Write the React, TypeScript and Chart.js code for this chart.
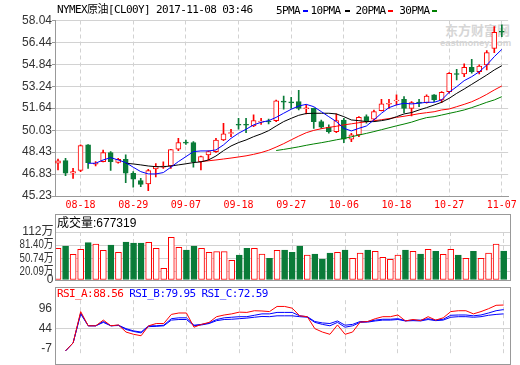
import React, { useEffect, useRef } from 'react';
import { Chart, registerables } from 'chart.js';

Chart.register(...registerables);

// ---- data ----
const dates = ['08-15','08-16','08-17','08-18','08-21','08-22','08-23','08-24','08-25','08-28','08-29','08-30','08-31','09-01','09-04','09-05','09-06','09-07','09-08','09-11','09-12','09-13','09-14','09-15','09-18','09-19','09-20','09-21','09-22','09-25','09-26','09-27','09-28','09-29','10-02','10-03','10-04','10-05','10-06','10-10','10-11','10-12','10-13','10-16','10-17','10-18','10-19','10-20','10-23','10-24','10-25','10-26','10-27','10-30','10-31','11-01','11-02','11-03','11-06','11-07'];
const axisDates = ['08-18','08-29','09-07','09-18','09-27','10-06','10-18','10-27','11-07'];

const opens = [47.62,47.81,46.89,47.10,48.96,47.55,47.74,48.40,47.69,47.91,46.89,46.35,46.11,47.20,47.33,47.42,48.64,49.16,49.13,47.74,48.23,48.47,49.32,49.79,50.47,50.47,50.34,50.62,50.70,50.73,52.15,52.10,52.12,51.60,51.63,50.66,50.25,49.93,50.78,49.37,49.69,51.02,50.83,51.46,51.93,52.17,52.29,51.63,52.08,52.05,52.61,52.24,52.85,54.17,54.14,54.63,54.31,54.80,56.01,57.26];
const closes = [47.79,46.89,47.01,48.91,47.67,47.62,48.40,47.74,47.91,46.89,46.45,46.08,47.08,47.40,47.42,48.62,49.13,49.09,47.74,48.11,48.47,49.32,49.76,49.86,50.40,50.40,50.73,50.69,50.63,52.17,52.08,52.03,51.63,51.67,50.66,50.25,49.93,50.73,49.37,49.69,50.97,50.73,51.39,51.95,52.00,52.24,51.63,52.05,52.01,52.53,52.24,52.80,54.19,54.10,54.63,54.31,54.72,55.70,57.18,57.19];
const highs = [47.92,47.98,47.25,48.96,48.98,47.74,48.59,48.47,47.98,48.23,47.01,46.52,47.18,47.60,47.72,48.64,49.44,49.32,49.20,48.15,48.52,49.44,50.54,50.10,50.90,50.90,51.15,50.90,50.85,52.24,52.53,52.43,52.95,51.88,51.65,50.78,50.42,51.22,50.90,49.81,51.02,51.15,51.51,52.29,52.29,52.61,52.48,52.12,52.29,52.61,52.63,52.85,54.24,54.48,54.87,55.21,54.80,55.84,57.59,57.72];
const lows = [47.13,46.72,46.52,47.01,47.25,47.42,47.72,47.10,47.62,46.21,45.87,45.91,45.62,46.62,47.25,47.25,48.54,49.00,47.33,47.13,47.86,48.42,49.27,49.56,50.10,49.86,50.29,50.45,50.50,50.66,51.56,51.63,51.51,51.22,50.17,50.17,49.81,49.86,49.13,49.20,49.56,50.54,50.78,51.44,51.63,51.88,51.32,51.07,51.75,52.00,52.12,52.05,52.73,53.70,53.94,54.19,54.14,54.43,55.70,56.86];

const ma5 = [null,null,null,null,47.62,47.62,47.86,48.03,47.86,47.67,47.33,47.01,46.84,46.84,46.94,47.33,47.74,48.10,48.47,48.52,48.52,48.59,48.96,49.44,49.81,50.10,50.42,50.61,50.73,50.97,51.27,51.56,51.80,51.92,51.75,51.39,51.02,50.66,50.17,49.98,50.17,50.34,50.78,51.27,51.68,51.88,52.00,51.95,52.00,52.07,52.07,52.24,52.80,53.21,53.65,53.94,54.30,54.79,55.40,55.93];
const ma10 = [null,null,null,null,null,null,null,null,null,47.62,47.57,47.50,47.42,47.37,47.37,47.42,47.50,47.58,47.67,47.72,47.86,48.15,48.54,48.88,49.13,49.32,49.56,49.76,50.00,50.34,50.66,50.90,51.12,51.25,51.27,51.27,51.27,51.22,51.02,50.78,50.73,50.66,50.66,50.73,50.83,51.02,51.22,51.32,51.51,51.68,51.87,52.07,52.36,52.72,53.04,53.38,53.72,54.06,54.43,54.74];
const ma20 = [null,null,null,null,null,null,null,null,null,null,null,null,null,null,null,null,null,null,null,47.74,47.80,47.86,47.93,48.00,48.08,48.16,48.27,48.40,48.57,48.80,49.05,49.33,49.60,49.85,50.02,50.14,50.24,50.32,50.42,50.50,50.58,50.65,50.72,50.80,50.88,50.97,51.05,51.14,51.24,51.31,51.38,51.51,51.58,51.75,51.92,52.11,52.36,52.65,52.97,53.26];
const ma30 = [null,null,null,null,null,null,null,null,null,null,null,null,null,null,null,null,null,null,null,null,null,null,null,null,null,null,null,null,null,48.55,48.63,48.72,48.82,48.93,49.03,49.12,49.22,49.33,49.43,49.55,49.68,49.80,49.93,50.07,50.21,50.35,50.48,50.62,50.80,50.95,51.02,51.14,51.26,51.38,51.51,51.68,51.87,52.07,52.24,52.48];

// volume in 万
const volumes = [73.9,79.3,59.9,71.6,87.1,84.0,69.2,81.7,64.6,88.7,86.3,86.3,87.9,73.9,27.2,99.6,76.2,70.0,79.3,73.9,64.6,66.1,66.1,45.9,58.3,73.9,73.9,60.7,50.6,69.2,70.0,64.6,79.3,58.3,60.7,49.0,63.0,64.6,70.0,50.6,63.0,70.0,66.9,52.9,48.2,58.3,70.0,66.9,60.7,71.6,66.9,59.9,71.6,58.3,50.6,66.9,50.6,63.0,84.0,67.73];

// RSI, in the units of the panel's axis
const rsiA = [null,-12.6,7.7,87.4,51.2,51.2,65.7,51.2,53.4,35.3,29.5,25.9,51.2,57.0,57.0,80.2,83.8,83.8,47.6,54.8,59.9,74.4,78.7,81.6,86.0,85.3,89.6,88.9,87.4,100.5,100.5,96.1,76.6,74.4,44.0,35.3,29.5,53.4,29.5,35.3,60.6,62.1,69.3,74.4,74.4,78.7,63.5,67.2,64.3,74.4,65.7,71.5,87.4,89.6,89.6,81.6,87.4,94.7,103.4,104.1];
const rsiB = [null,-12.6,7.7,83.8,51.2,51.2,62.1,51.2,52.7,44.0,38.2,35.3,51.2,51.2,52.7,69.3,71.5,71.5,52.7,54.8,58.5,67.2,71.5,73.0,74.4,74.4,78.0,81.6,81.6,85.3,85.3,85.3,76.6,74.4,62.1,58.5,57.0,63.5,52.7,54.8,62.1,62.1,65.7,67.9,67.9,69.3,64.3,65.7,65.7,69.3,65.7,67.9,78.0,78.7,78.7,76.6,78.7,83.8,89.6,92.5];
const rsiC = [null,-12.6,7.7,81.6,51.2,51.2,59.9,51.2,51.9,41.8,36.7,33.1,49.0,49.8,51.2,65.7,67.2,67.2,51.2,53.4,57.0,64.3,67.2,67.9,69.3,70.8,73.0,75.0,74.4,76.6,76.6,76.6,74.4,73.0,59.9,54.8,51.2,59.9,47.6,51.2,59.9,60.6,63.5,65.7,65.7,67.2,63.5,64.3,63.5,67.2,64.3,65.7,73.0,74.4,74.4,73.0,74.4,78.0,80.2,81.6];

const priceTicks = [45.23,46.83,48.43,50.03,51.64,53.24,54.84,56.44,58.04];
const volTicks = [0,20.09,50.74,81.40,112];
const volTickLabels = ['0','20.09万','50.74万','81.40万','112万'];
const rsiTicks = [-7,44,96];

// ---- styles ----
const SANS = '"Liberation Sans", Arial, "Noto Sans CJK SC", sans-serif';
const MONO = '"DejaVu Sans Mono", "Liberation Mono", "Noto Sans CJK SC", monospace';
const RED = '#ff0000';
const GREEN = '#0a7b38';
const BLUE = '#0000ff';
const GRID = '#d2d2d2';
const AXIS = '#999999';
const CLEAR = 'rgba(0,0,0,0)';

const tickIdx = axisDates.map((d) => dates.indexOf(d));
const up = closes.map((c, i) => c >= opens[i]);

function xScale(labels: boolean, h: number) {
  return {
    type: 'linear',
    min: -0.4,
    max: 59.84,
    offset: false,
    afterBuildTicks: (s: any) => { s.ticks = tickIdx.map((v) => ({ value: v })); },
    afterFit: (s: any) => { s.height = h; },
    ticks: {
      display: labels, autoSkip: false, maxRotation: 0, minRotation: 0, padding: 3,
      color: RED, font: { family: MONO, size: 10 },
      callback: (v: any) => dates[v],
    },
    grid: { offset: false, color: GRID, drawTicks: false, lineWidth: 1 },
    border: { display: labels, color: AXIS, dash: [4, 3] },
  };
}

function lineDs(label: string, arr: (number | null)[], color: string) {
  return {
    type: 'line', label,
    data: arr.map((v, i) => ({ x: i, y: v })),
    borderColor: color, borderWidth: 1, pointRadius: 0, fill: false, tension: 0, spanGaps: false,
  };
}

const volLabelPlugin = {
  id: 'volLabels',
  afterDraw(chart: any) {
    const ctx = chart.ctx;
    const s = chart.scales.y;
    ctx.save();
    ctx.font = `12px ${SANS}`;
    ctx.fillStyle = '#333333';
    ctx.textAlign = 'right';
    ctx.textBaseline = 'middle';
    volTicks.forEach((v, k) => {
      ctx.fillText(volTickLabels[k], 53.5, s.getPixelForValue(v), 34);
    });
    ctx.restore();
  },
};

const common = {
  responsive: false,
  maintainAspectRatio: false,
  animation: false,
  events: [],
  plugins: { legend: { display: false }, tooltip: { enabled: false } },
};

export default function App() {
  const mainRef = useRef<HTMLCanvasElement>(null);
  const volRef = useRef<HTMLCanvasElement>(null);
  const rsiRef = useRef<HTMLCanvasElement>(null);

  useEffect(() => {
    const charts: any[] = [];

    charts.push(new Chart(mainRef.current as HTMLCanvasElement, {
      type: 'bar',
      data: {
        datasets: [
          lineDs('5PMA', ma5, BLUE),
          lineDs('10PMA', ma10, '#000000'),
          lineDs('20PMA', ma20, RED),
          lineDs('30PMA', ma30, '#008000'),
          {
            type: 'bar', label: 'K',
            data: opens.map((o, i) => ({ x: i, y: [o, closes[i]] })),
            backgroundColor: up.map((u) => (u ? '#ffffff' : GREEN)),
            borderColor: up.map((u) => (u ? RED : GREEN)),
            borderWidth: 1, borderSkipped: false, barThickness: 5, grouped: false,
          },
          {
            type: 'bar', label: 'HL',
            data: lows.map((l, i) => ({ x: i, y: [l, highs[i]] })),
            backgroundColor: up.map((u) => (u ? RED : GREEN)),
            borderWidth: 0, barThickness: 1, grouped: false,
          },
        ],
      } as any,
      options: {
        ...common,
        layout: { autoPadding: false, padding: { top: 20.5, left: 0, right: 10, bottom: 0 } },
        scales: {
          x: xScale(true, 19),
          y: {
            type: 'linear', min: 45.23, max: 58.04,
            afterBuildTicks: (s: any) => { s.ticks = priceTicks.map((v) => ({ value: v })); },
            afterFit: (s: any) => { s.width = 55; },
            ticks: {
              autoSkip: false, padding: 0, color: '#333333',
              font: { family: SANS, size: 12 },
              callback: (v: any) => Number(v).toFixed(2),
            },
            grid: {
              color: (c: any) => (c.tick && c.tick.value === 45.23 ? CLEAR : GRID),
              tickColor: AXIS, tickLength: 3,
            },
            border: { color: AXIS },
          },
        },
      } as any,
    }));

    charts.push(new Chart(volRef.current as HTMLCanvasElement, {
      type: 'bar',
      data: {
        datasets: [{
          label: 'VOL',
          data: volumes.map((v, i) => ({ x: i, y: v })),
          backgroundColor: up.map((u) => (u ? '#ffffff' : GREEN)),
          borderColor: up.map((u) => (u ? RED : GREEN)),
          borderWidth: 1, borderSkipped: false, barThickness: 6, grouped: false,
        }],
      } as any,
      options: {
        ...common,
        layout: { autoPadding: false, padding: { top: 20, left: 0, right: 10, bottom: 0 } },
        scales: {
          x: xScale(false, 4),
          y: {
            type: 'linear', min: 0, max: 112,
            afterBuildTicks: (s: any) => { s.ticks = volTicks.map((v) => ({ value: v })); },
            afterFit: (s: any) => { s.width = 55; },
            ticks: { display: false },
            grid: { color: GRID, drawTicks: false },
            border: { display: false },
          },
        },
      } as any,
      plugins: [volLabelPlugin] as any,
    }));

    charts.push(new Chart(rsiRef.current as HTMLCanvasElement, {
      type: 'line',
      data: {
        datasets: [
          { label: 'RSI_A', data: rsiA.map((v, i) => ({ x: i, y: v })), borderColor: RED, borderWidth: 1, pointRadius: 0, fill: false },
          { label: 'RSI_B', data: rsiB.map((v, i) => ({ x: i, y: v })), borderColor: BLUE, borderWidth: 1, pointRadius: 0, fill: false },
          { label: 'RSI_C', data: rsiC.map((v, i) => ({ x: i, y: v })), borderColor: BLUE, borderWidth: 1, pointRadius: 0, fill: false },
        ],
      } as any,
      options: {
        ...common,
        layout: { autoPadding: false, padding: { top: 10, left: 0, right: 10, bottom: 0 } },
        scales: {
          x: xScale(false, 1),
          y: {
            type: 'linear', min: -22.7, max: 116.4,
            afterBuildTicks: (s: any) => { s.ticks = rsiTicks.map((v) => ({ value: v })); },
            afterFit: (s: any) => { s.width = 55; },
            ticks: { autoSkip: false, padding: 3, color: '#333333', font: { family: SANS, size: 12 } },
            grid: { color: (c: any) => (c.tick && c.tick.value === 44 ? GRID : CLEAR), drawTicks: false },
            border: { display: false },
          },
        },
      } as any,
    }));

    return () => { charts.forEach((c) => c.destroy()); };
  }, []);

  const abs = (left: number, top: number, extra: any = {}) => ({
    position: 'absolute' as const, left, top, whiteSpace: 'nowrap' as const, ...extra,
  });
  const monoText = { fontFamily: MONO, fontSize: 11, letterSpacing: '-0.6px', lineHeight: '12px' };
  const dash = (left: number, color: string) => (
    <div style={abs(left, 10, { width: 5, height: 2, background: color })} />
  );

  return (
    <div style={{ position: 'absolute', left: 0, top: 0, width: 520, height: 365, background: '#ffffff', overflow: 'hidden' }}>
      {/* watermark */}
      <div style={abs(445, 22, { fontFamily: '"Noto Sans CJK SC", sans-serif', fontWeight: 700, fontSize: 13, lineHeight: '15px', color: '#d6d6d6' })}>东方财富网</div>
      <div style={abs(440, 37, { fontFamily: SANS, fontWeight: 700, fontSize: 9.5, lineHeight: '11px', color: '#d6d6d6' })}>eastmoney.com</div>

      <canvas ref={mainRef} width={520} height={215} style={{ position: 'absolute', left: 0, top: 0 }} />
      <canvas ref={volRef} width={520} height={72} style={{ position: 'absolute', left: 0, top: 212 }} />
      <canvas ref={rsiRef} width={520} height={75} style={{ position: 'absolute', left: 0, top: 290 }} />

      {/* panel frames */}
      <div style={{ position: 'absolute', left: 55, top: 214, width: 456, height: 67, border: `1px solid ${AXIS}`, boxSizing: 'border-box', pointerEvents: 'none' }} />
      <div style={{ position: 'absolute', left: 55, top: 287, width: 456, height: 78, border: `1px solid ${AXIS}`, boxSizing: 'border-box', pointerEvents: 'none' }} />

      {/* title & legend */}
      <div style={abs(57, 4, { ...monoText, color: '#000' })}>NYMEX原油[CL00Y] 2017-11-08 03:46</div>
      <div style={abs(276, 4.5, { ...monoText, color: '#000' })}>5PMA</div>
      {dash(302.7, BLUE)}
      <div style={abs(310.5, 4.5, { ...monoText, color: '#000' })}>10PMA</div>
      {dash(345, '#000000')}
      <div style={abs(355.5, 4.5, { ...monoText, color: '#000' })}>20PMA</div>
      {dash(388.3, RED)}
      <div style={abs(399.3, 4.5, { ...monoText, color: '#000' })}>30PMA</div>
      {dash(431.7, '#008000')}

      {/* volume header */}
      <div style={abs(57, 216, { fontFamily: SANS, fontSize: 12, lineHeight: '14px', color: '#000' })}>成交量:677319</div>

      {/* RSI header */}
      <div style={abs(57, 288, { ...monoText })}>
        <span style={{ color: RED }}>RSI_A:88.56</span>{' '}
        <span style={{ color: BLUE }}>RSI_B:79.95</span>{' '}
        <span style={{ color: BLUE }}>RSI_C:72.59</span>
      </div>
    </div>
  );
}
